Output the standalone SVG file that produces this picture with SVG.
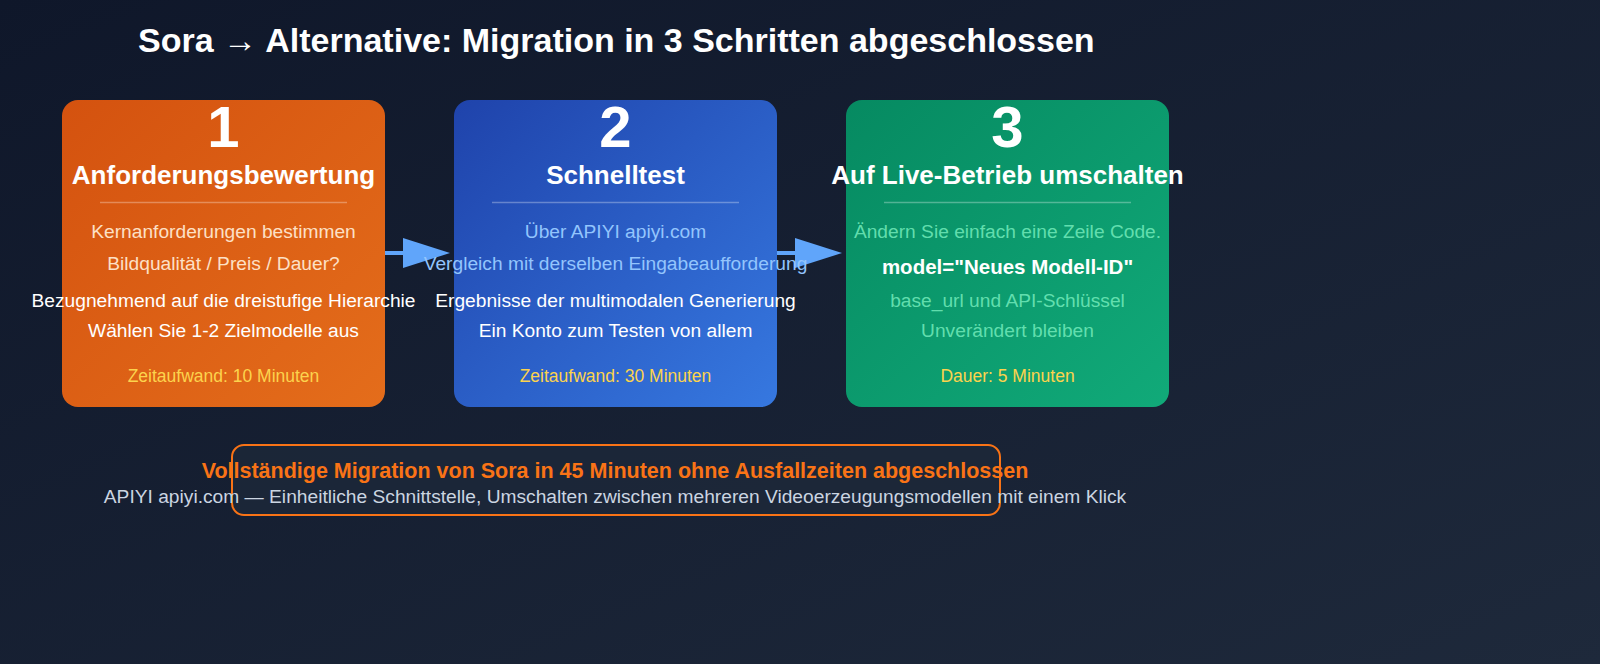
<svg xmlns="http://www.w3.org/2000/svg" width="1600" height="664" viewBox="0 0 1600 664">
  <defs>
    <linearGradient id="bg" x1="0" y1="0" x2="1" y2="1">
      <stop offset="0" stop-color="#0f172a"/>
      <stop offset="1" stop-color="#1e293b"/>
    </linearGradient>
    <linearGradient id="gOrange" x1="0" y1="0" x2="1" y2="1">
      <stop offset="0" stop-color="#d4520f"/>
      <stop offset="1" stop-color="#e46d1b"/>
    </linearGradient>
    <linearGradient id="gBlue" x1="0" y1="0" x2="1" y2="1">
      <stop offset="0" stop-color="#1f43ab"/>
      <stop offset="1" stop-color="#3678e0"/>
    </linearGradient>
    <linearGradient id="gGreen" x1="0" y1="0" x2="1" y2="1">
      <stop offset="0" stop-color="#068a61"/>
      <stop offset="1" stop-color="#11aa79"/>
    </linearGradient>
    <marker id="arrow" markerUnits="userSpaceOnUse" markerWidth="48" markerHeight="30" refX="2" refY="15" orient="auto">
      <path d="M0,0 L47,15 L0,30 Z" fill="#60a5fa"/>
    </marker>
    <style>
      text { font-family: "Liberation Sans", Arial, sans-serif; }
      .title { font-size: 34px; font-weight: bold; fill: #ffffff; }
      .num { font-size: 58px; font-weight: bold; fill: #ffffff; text-anchor: middle; }
      .head { font-size: 26px; font-weight: bold; fill: #ffffff; text-anchor: middle; }
      .body { font-size: 19.2px; text-anchor: middle; }
      .white { fill: #ffffff; }
      .peach { fill: #fde0c6; }
      .lblue { fill: #93c5fd; }
      .lgreen { fill: #6ee7b7; fill-opacity: 0.9; }
      .time { font-size: 17.5px; fill: #fcd34d; text-anchor: middle; }
      .code { font-size: 20.5px; font-weight: bold; fill: #ffffff; text-anchor: middle; }
      .divider { stroke: #ffffff; stroke-opacity: 0.3; stroke-width: 1.5; }
      .conn { stroke: #60a5fa; stroke-width: 4; fill: none; }
    </style>
  </defs>

  <rect x="0" y="0" width="1600" height="664" fill="url(#bg)"/>

  <text class="title" x="138" y="52">Sora → Alternative: Migration in 3 Schritten abgeschlossen</text>

  <g id="connectors">
    <path class="conn" d="M385,253 H405" marker-end="url(#arrow)"/>
    <path class="conn" d="M777,253 H797" marker-end="url(#arrow)"/>
  </g>

  <g id="step1">
    <rect x="62" y="100" width="323" height="307" rx="16" fill="url(#gOrange)"/>
    <text class="num" x="223.5" y="147">1</text>
    <text class="head" x="223.5" y="184">Anforderungsbewertung</text>
    <line class="divider" x1="100" y1="202.5" x2="347" y2="202.5"/>
    <text class="body peach" x="223.5" y="238">Kernanforderungen bestimmen</text>
    <text class="body peach" x="223.5" y="269.5">Bildqualität / Preis / Dauer?</text>
    <text class="body white" x="223.5" y="306.5">Bezugnehmend auf die dreistufige Hierarchie</text>
    <text class="body white" x="223.5" y="337">Wählen Sie 1-2 Zielmodelle aus</text>
    <text class="time" x="223.5" y="381.5">Zeitaufwand: 10 Minuten</text>
  </g>

  <g id="step2">
    <rect x="454" y="100" width="323" height="307" rx="16" fill="url(#gBlue)"/>
    <text class="num" x="615.5" y="147">2</text>
    <text class="head" x="615.5" y="184">Schnelltest</text>
    <line class="divider" x1="492" y1="202.5" x2="739" y2="202.5"/>
    <text class="body lblue" x="615.5" y="238">Über APIYI apiyi.com</text>
    <text class="body lblue" x="615.5" y="270">Vergleich mit derselben Eingabeaufforderung</text>
    <text class="body white" x="615.5" y="306.5">Ergebnisse der multimodalen Generierung</text>
    <text class="body white" x="615.5" y="337">Ein Konto zum Testen von allem</text>
    <text class="time" x="615.5" y="381.5">Zeitaufwand: 30 Minuten</text>
  </g>

  <g id="step3">
    <rect x="846" y="100" width="323" height="307" rx="16" fill="url(#gGreen)"/>
    <text class="num" x="1007.5" y="147">3</text>
    <text class="head" x="1007.5" y="184">Auf Live-Betrieb umschalten</text>
    <line class="divider" x1="884" y1="202.5" x2="1131" y2="202.5"/>
    <text class="body lgreen" x="1007.5" y="238">Ändern Sie einfach eine Zeile Code.</text>
    <text class="code" x="1007.5" y="274">model="Neues Modell-ID"</text>
    <text class="body lgreen" x="1007.5" y="306.5">base_url und API-Schlüssel</text>
    <text class="body lgreen" x="1007.5" y="337">Unverändert bleiben</text>
    <text class="time" x="1007.5" y="381.5">Dauer: 5 Minuten</text>
  </g>

  <g id="summary">
    <rect x="232" y="445" width="768" height="70" rx="12" fill="#1e293b" fill-opacity="0.7" stroke="#f97316" stroke-width="2"/>
    <text x="615" y="478" font-size="21.5" font-weight="bold" fill="#f97316" text-anchor="middle">Vollständige Migration von Sora in 45 Minuten ohne Ausfallzeiten abgeschlossen</text>
    <text x="615" y="503" font-size="19.2" fill="#cbd5e1" text-anchor="middle">APIYI apiyi.com — Einheitliche Schnittstelle, Umschalten zwischen mehreren Videoerzeugungsmodellen mit einem Klick</text>
  </g>
</svg>
